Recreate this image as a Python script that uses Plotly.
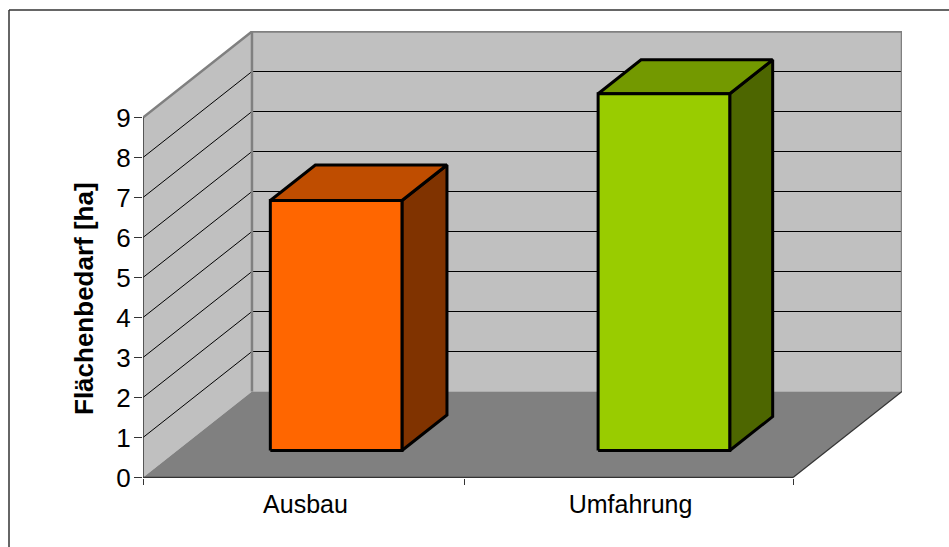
import plotly.graph_objects as go

# ---- data ----
categories = ["Ausbau", "Umfahrung"]
values = [6.25, 8.92]
y_ticks = [0, 1, 2, 3, 4, 5, 6, 7, 8, 9]
y_title = "Flächenbedarf [ha]"
front_colors = ["#FF6600", "#99CC00"]
top_colors = ["#BF4D00", "#739900"]
side_colors = ["#803300", "#4D6600"]

# ---- oblique projection of (category, value, depth) onto the axes ----
W, H = 949, 547
L, R, T, B = 143, 902, 31, 478
UNIT_X = 325.1      # px per category
UNIT_Y = 40.0       # px per value unit
DX, DY = 109, 86    # px offset of full depth
YMAX = 9
XMAX = 2 + DX / UNIT_X
Y0 = -0.0125        # half-pixel offset so that horizontal lines stay crisp
YTOP = Y0 + (B - T) / UNIT_Y
BAR_CENTER = [0.489, 1.4975]
BAR_HALF = 0.2025   # half width of a bar in category units
D0 = 0.314          # front depth of bars
D1 = [0.727, 0.708] # back depth of bars


def proj(c, v, d):
    return c + d * DX / UNIT_X, v + d * DY / UNIT_Y


def poly(pts, fill, line_color=None, line_width=0, closed=True):
    xy = [proj(*p) for p in pts]
    if closed:
        xy.append(xy[0])
    return go.Scatter(
        x=[p[0] for p in xy], y=[p[1] for p in xy], mode="lines",
        fill="toself" if fill else "none", fillcolor=fill,
        line=dict(color=line_color or "rgba(0,0,0,0)", width=line_width),
        hoverinfo="skip", showlegend=False, cliponaxis=False,
    )


fig = go.Figure()
WALL, FLOOR, EDGE, DARK = "#C0C0C0", "#808080", "#808080", "#333333"

# walls and floor
fig.add_trace(poly([(0, 0, 0), (0, 0, 1), (0, YMAX, 1), (0, YMAX, 0)], WALL))
fig.add_trace(poly([(0, 0, 1), (2, 0, 1), (2, YMAX, 1), (0, YMAX, 1)], WALL))
fig.add_trace(poly([(0, 0, 0), (2, 0, 0), (2, 0, 1), (0, 0, 1)], FLOOR))

# gridlines
for v in y_ticks[1:-1]:
    fig.add_trace(poly([(0, v, 0), (0, v, 1), (2, v, 1)], None, "#000000", 1, closed=False))

# wall edges
fig.add_trace(poly([(0, YMAX, 0), (0, YMAX, 1), (2, YMAX, 1), (2, 0, 1)], None, EDGE, 2.5, closed=False))
fig.add_trace(poly([(0, YMAX, 1), (0, 0, 1)], None, EDGE, 2.5, closed=False))
fig.add_trace(poly([(2, 0, 0), (2, 0, 1)], None, DARK, 1.2, closed=False))
# axis lines
fig.add_trace(poly([(0, YMAX, 0), (0, 0, 0), (2, 0, 0)], None, DARK, 1.5, closed=False))

# bars
for i, v in enumerate(values):
    a, b = BAR_CENTER[i] - BAR_HALF, BAR_CENTER[i] + BAR_HALF
    d1 = D1[i]
    fig.add_trace(poly([(b, 0, D0), (b, 0, d1), (b, v, d1), (b, v, D0)], side_colors[i], "#000000", 3))
    fig.add_trace(poly([(a, v, D0), (b, v, D0), (b, v, d1), (a, v, d1)], top_colors[i], "#000000", 3))
    fig.add_trace(poly([(a, 0, D0), (b, 0, D0), (b, v, D0), (a, v, D0)], front_colors[i], "#000000", 3))

font = dict(family="Liberation Sans, Arial, sans-serif", color="#000000")

fig.update_layout(
    width=W, height=H, autosize=False,
    margin=dict(l=L, r=W - R, t=T, b=H - B, pad=0),
    paper_bgcolor="#FFFFFF", plot_bgcolor="#FFFFFF",
    showlegend=False,
    font=font,
    xaxis=dict(
        range=[0, XMAX], showgrid=False, zeroline=False, showline=False,
        tickmode="array", tickvals=[0.5, 1.5], ticktext=categories,
        ticks="outside", ticklen=0, tickcolor="rgba(0,0,0,0)",
        tickfont=dict(size=25), ticklabelstandoff=4,
        minor=dict(tickmode="array", tickvals=[0, 0.99, 2], ticks="outside",
                   ticklen=6, tickcolor=DARK, tickwidth=1, showgrid=False),
    ),
    yaxis=dict(
        range=[Y0, YTOP], showgrid=False, zeroline=False, showline=False,
        tickmode="array", tickvals=y_ticks,
        ticks="outside", ticklen=8, tickcolor=DARK, tickwidth=1,
        tickfont=dict(size=26), ticklabelstandoff=-2,
    ),
    shapes=[
        dict(type="line", xref="paper", yref="paper", layer="above",
             x0=(9 - L) / (R - L), x1=(W + 5 - L) / (R - L),
             y0=(B - 10) / (B - T), y1=(B - 10) / (B - T),
             line=dict(color=DARK, width=1.5)),
        dict(type="line", xref="paper", yref="paper", layer="above",
             x0=(9 - L) / (R - L), x1=(9 - L) / (R - L),
             y0=(B - 10) / (B - T), y1=(B - H - 5) / (B - T),
             line=dict(color=DARK, width=1.5)),
    ],
    annotations=[
        dict(text=f"<b>{y_title}</b>", textangle=-90, showarrow=False,
             xref="paper", yref="paper", xanchor="center", yanchor="middle",
             x=(84.5 - L) / (R - L), y=(B - 298.5) / (B - T),
             font=dict(size=26)),
    ],
)

fig.write_html("out.html", config={"displayModeBar": False},
               post_script="document.body.style.margin='0';document.body.style.overflow='hidden';")
